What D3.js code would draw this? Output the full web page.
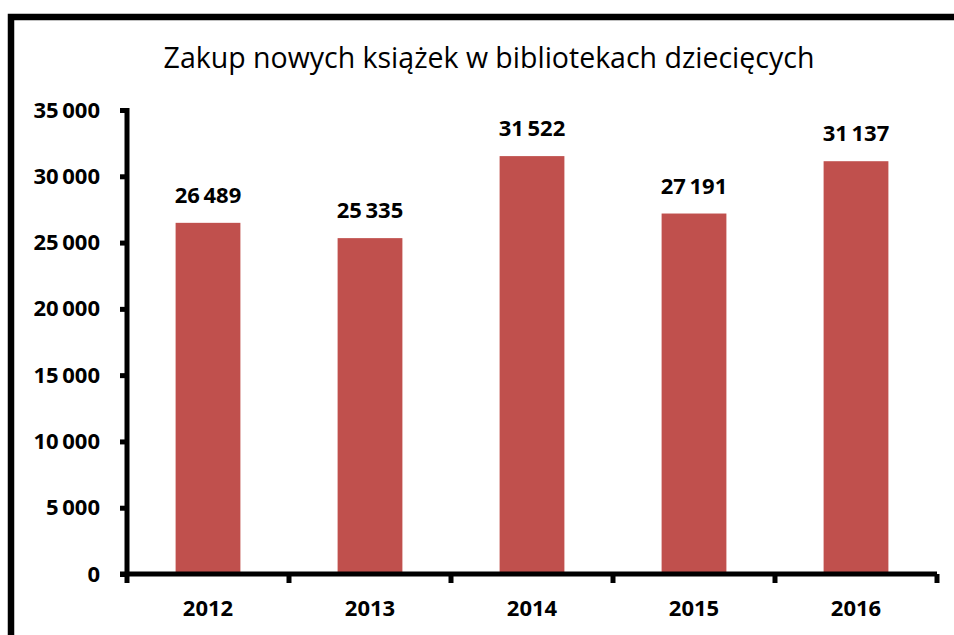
<!DOCTYPE html>
<html>
<head>
<meta charset="utf-8">
<script src="https://cdn.jsdelivr.net/npm/d3@7"></script>
<style>
  html, body { margin: 0; padding: 0; background: #fff; }
  svg { display: block; }
  text { font-family: "Open Sans", "Noto Sans", sans-serif; fill: #000; }
</style>
</head>
<body>
<svg id="chart" width="954" height="635"></svg>
<script>
const title = "Zakup nowych książek w bibliotekach dziecięcych";
const years = ["2012", "2013", "2014", "2015", "2016"];
const purchases = [26489, 25335, 31522, 27191, 31137];
const yTicks = [0, 5000, 10000, 15000, 20000, 25000, 30000, 35000];

const svg = d3.select("#chart");
const W = 954, H = 635;
const m = { left: 127, right: 17, top: 110, bottom: 61 };

const fmt = v => {
  const s = String(v);
  return s.length > 3 ? s.slice(0, s.length - 3) + "\u2009" + s.slice(-3) : s;
};

// frame (left and top borders)
svg.append("path")
  .attr("d", `M11,${H} L11,17 L${W},17`)
  .attr("fill", "none").attr("stroke", "#000").attr("stroke-width", 6.5);

const x = d3.scaleBand().domain(years).range([m.left, W - m.right]).padding(0);
const y = d3.scaleLinear().domain([0, 35000]).range([H - m.bottom, m.top]);

// title
svg.append("text")
  .attr("x", 489).attr("y", 68)
  .attr("text-anchor", "middle")
  .attr("font-size", 28.5)
  .attr("font-weight", 500)
  .text(title);

// bars
const barW = x.bandwidth() * 0.4;
svg.selectAll("rect.bar").data(purchases).join("rect")
  .attr("class", "bar")
  .attr("x", (d, i) => x(years[i]) + (x.bandwidth() - barW) / 2)
  .attr("y", d => y(d))
  .attr("width", barW)
  .attr("height", d => y(0) - y(d))
  .attr("fill", "#C0504D");

// value labels
svg.selectAll("text.val").data(purchases).join("text")
  .attr("class", "val")
  .attr("x", (d, i) => x(years[i]) + x.bandwidth() / 2)
  .attr("y", d => y(d) - 20)
  .attr("text-anchor", "middle")
  .attr("font-size", 22)
  .attr("font-weight", 700)
  .text(d => fmt(d));

// y axis
const yAxis = svg.append("g").attr("transform", `translate(${m.left},0)`)
  .call(d3.axisLeft(y).tickValues(yTicks).tickSize(7).tickPadding(20).tickFormat(fmt));
yAxis.select(".domain").attr("stroke", "#000").attr("stroke-width", 5)
  .attr("d", `M0,${y(35000) - 2}V${y(0) + 2}`);
yAxis.selectAll(".tick line").attr("stroke", "#000").attr("stroke-width", 5);
yAxis.selectAll(".tick text")
  .attr("font-size", 22).attr("font-weight", 700)
  .attr("font-family", "\"Open Sans\", sans-serif").attr("fill", "#000");

// x axis
const xAxis = svg.append("g").attr("transform", `translate(0,${y(0)})`)
  .call(d3.axisBottom(x).tickSize(0).tickPadding(26));
xAxis.select(".domain").attr("stroke", "#000").attr("stroke-width", 5)
  .attr("d", `M${m.left - 7},0H${W - m.right}`);
xAxis.selectAll(".tick text")
  .attr("font-size", 22).attr("font-weight", 700)
  .attr("font-family", "\"Open Sans\", sans-serif").attr("fill", "#000");
// category boundary ticks
const bounds = years.map(yr => x(yr)).concat([x(years[years.length - 1]) + x.bandwidth()]);
xAxis.selectAll("line.bound").data(bounds).join("line")
  .attr("class", "bound")
  .attr("x1", d => d).attr("x2", d => d)
  .attr("y1", 0).attr("y2", 9)
  .attr("stroke", "#000").attr("stroke-width", 5);
</script>
</body>
</html>
